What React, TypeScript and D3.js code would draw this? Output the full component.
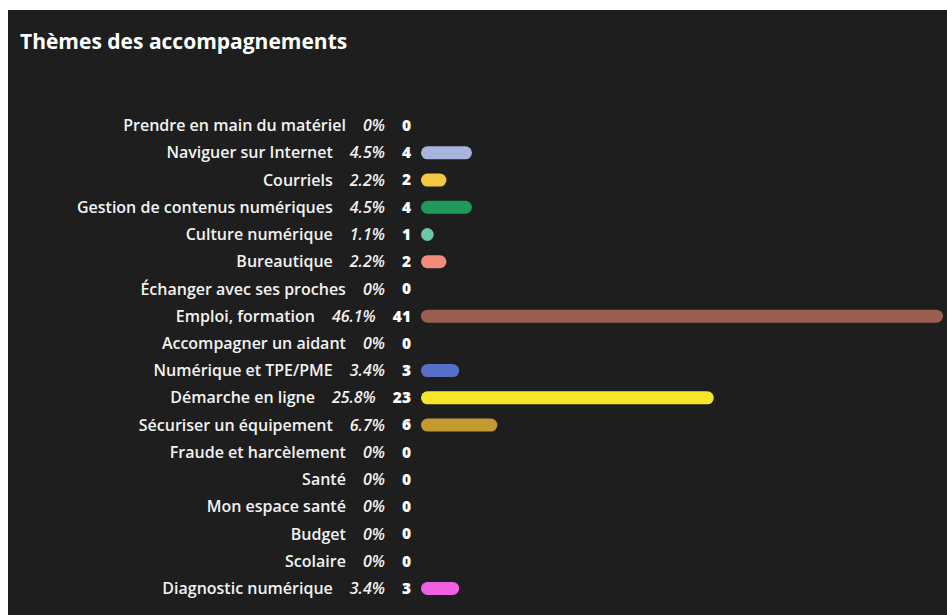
import React from "react";
import * as d3 from "d3";

const categories = [
  "Prendre en main du matériel",
  "Naviguer sur Internet",
  "Courriels",
  "Gestion de contenus numériques",
  "Culture numérique",
  "Bureautique",
  "Échanger avec ses proches",
  "Emploi, formation",
  "Accompagner un aidant",
  "Numérique et TPE/PME",
  "Démarche en ligne",
  "Sécuriser un équipement",
  "Fraude et harcèlement",
  "Santé",
  "Mon espace santé",
  "Budget",
  "Scolaire",
  "Diagnostic numérique",
];
const counts = [0, 4, 2, 4, 1, 2, 0, 41, 0, 3, 23, 6, 0, 0, 0, 0, 0, 3];
const percents = ["0%", "4.5%", "2.2%", "4.5%", "1.1%", "2.2%", "0%", "46.1%", "0%", "3.4%", "25.8%", "6.7%", "0%", "0%", "0%", "0%", "0%", "3.4%"];
const colors = ["#a9b4dd", "#a9b4dd", "#f5c843", "#1f9a5a", "#6cc6a8", "#f28b7a", "#888", "#9b5f50", "#888", "#5570c6", "#f5e62a", "#c49a30", "#888", "#888", "#888", "#888", "#888", "#f060e0"];
const title = "Thèmes des accompagnements";

const W = 947;
const H = 615;
const FONT = "'Open Sans'";
const pctSize = 16;
const cntSize = 15.5;
const pctFont = `italic 600 ${pctSize}px ${FONT}`;
const cntFont = `800 ${cntSize}px ${FONT}`;

let ctx: CanvasRenderingContext2D | null = null;
function measure(text: string, font: string): number {
  if (!ctx) ctx = document.createElement("canvas").getContext("2d");
  if (!ctx) return text.length * 8;
  ctx.font = font;
  return ctx.measureText(text).width;
}

export default function App() {
  const y = d3.scaleBand<string>().domain(categories).range([112, 602]).paddingInner(0);
  const x = d3.scaleLinear().domain([0, 41]).range([421, 943]);
  const barH = 13;
  const cntRight = 411;
  const gap = 17;
  return (
    <svg width={W} height={H} style={{ position: "absolute", left: 0, top: 0 }} fontFamily={FONT}>
      <rect x={0} y={0} width={W} height={H} fill="#ffffff" />
      <rect x={8} y={10} width={W - 8} height={H - 10} fill="#1e1e1e" />
      <text x={20} y={49} fill="#ffffff" fontSize={21} fontWeight={700}>{title}</text>
      {categories.map((c, i) => {
        const cy = (y(c) as number) + y.bandwidth() / 2;
        const v = counts[i];
        const w = x(v) - x(0);
        const cw = measure(String(v), cntFont);
        const pRight = cntRight - cw - gap;
        const pw = measure(percents[i], pctFont);
        const lRight = pRight - pw - gap;
        return (
          <g key={c}>
            <text x={lRight} y={cy} dy="0.35em" textAnchor="end" fill="#f2f2f2" fontSize={16} fontWeight={600}>{c}</text>
            <text x={pRight} y={cy} dy="0.35em" textAnchor="end" fill="#f2f2f2" fontSize={pctSize} fontStyle="italic" fontWeight={600}>{percents[i]}</text>
            <text x={cntRight} y={cy} dy="0.35em" textAnchor="end" fill="#ffffff" fontSize={cntSize} fontWeight={800}>{v}</text>
            {v > 0 && (
              <rect x={x(0)} y={cy - barH / 2} width={w} height={barH} rx={barH / 2} fill={colors[i]} />
            )}
          </g>
        );
      })}
    </svg>
  );
}
